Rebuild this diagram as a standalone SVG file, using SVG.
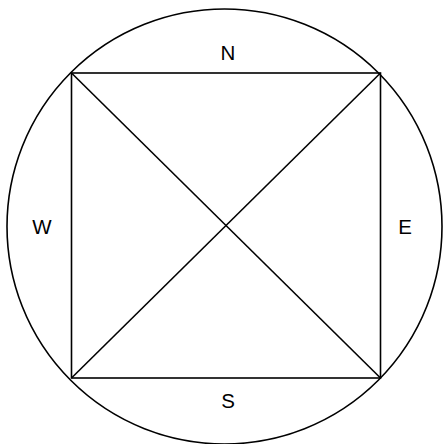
<svg xmlns="http://www.w3.org/2000/svg" width="443" height="444" viewBox="0 0 443 444">
<style>
.l{fill:none;stroke:#000;stroke-width:1.6}
text{font-family:"Liberation Sans",Arial,sans-serif;font-size:20.5px;fill:#000;text-anchor:middle}
</style>
<rect width="443" height="444" fill="#fff"/>
<g id="circle"><circle class="l" cx="224.5" cy="226.5" r="217.5"/></g>
<g id="connectors">
<rect class="l" x="71.5" y="73" width="309" height="305"/>
<line class="l" x1="71.5" y1="73" x2="380.5" y2="378"/>
<line class="l" x1="380.5" y1="73" x2="71.5" y2="378"/>
</g>
<g id="N"><text x="228" y="60">N</text></g>
<g id="S"><text x="228" y="408">S</text></g>
<g id="W"><text x="42" y="234">W</text></g>
<g id="E"><text x="405" y="234">E</text></g>
</svg>
